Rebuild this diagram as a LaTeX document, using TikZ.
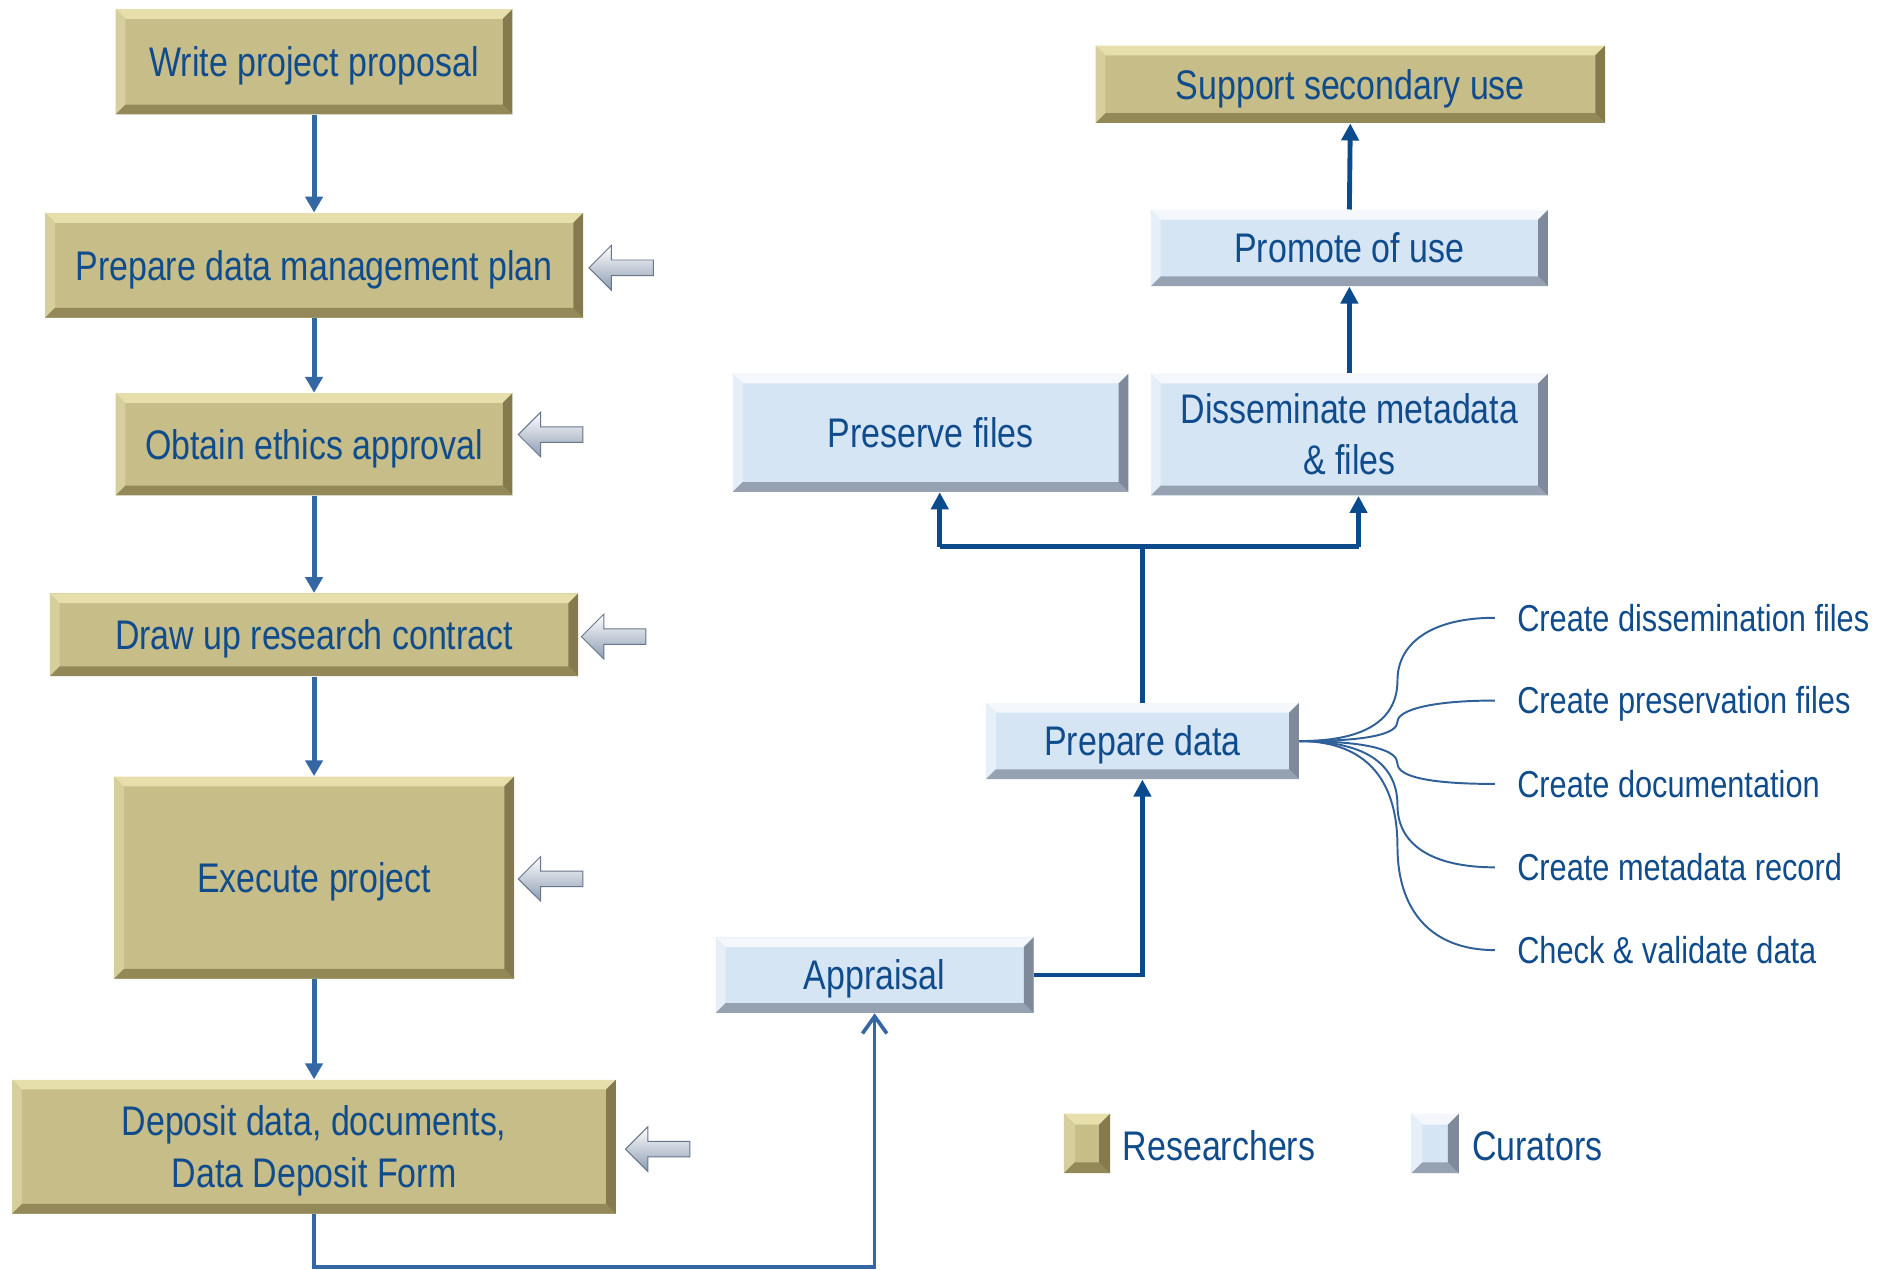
\documentclass[tikz,border=0pt]{standalone}
\usepackage{fontspec}
\setmainfont{Liberation Sans}[FakeStretch=0.82]
\usetikzlibrary{shapes.arrows,arrows.meta}
\definecolor{tanF}{RGB}{198,189,136}
\definecolor{tanT}{RGB}{230,223,172}
\definecolor{tanL}{RGB}{214,206,156}
\definecolor{tanB}{RGB}{146,136,88}
\definecolor{tanR}{RGB}{132,122,78}
\definecolor{bluF}{RGB}{214,229,244}
\definecolor{bluT}{RGB}{244,248,253}
\definecolor{bluL}{RGB}{230,239,248}
\definecolor{bluB}{RGB}{150,162,178}
\definecolor{bluR}{RGB}{126,138,154}
\definecolor{txt}{RGB}{16,76,140}
\definecolor{lcol}{RGB}{52,103,164}
\definecolor{rcol}{RGB}{12,74,142}
\definecolor{ccol}{RGB}{48,96,152}
\definecolor{arrM}{RGB}{234,240,247}
\definecolor{arrB}{RGB}{140,156,178}
\definecolor{arrD}{RGB}{104,118,140}
\newcommand\boxfont{\fontsize{17}{21}\selectfont}
\newcommand\labfont{\fontsize{15.4}{18}\selectfont}
\newcommand\bevelfill[5]{%
  \path (path picture bounding box.north west) coordinate (bvA)
        (path picture bounding box.north east) coordinate (bvB)
        (path picture bounding box.south east) coordinate (bvC)
        (path picture bounding box.south west) coordinate (bvD);
  \fill[#1] (bvA) -- (bvB) -- ([shift={(-#5,-#5)}]bvB) -- ([shift={(#5,-#5)}]bvA) -- cycle;
  \fill[#2] (bvA) -- ([shift={(#5,-#5)}]bvA) -- ([shift={(#5,#5)}]bvD) -- (bvD) -- cycle;
  \fill[#3] (bvD) -- ([shift={(#5,#5)}]bvD) -- ([shift={(-#5,#5)}]bvC) -- (bvC) -- cycle;
  \fill[#4] (bvB) -- (bvC) -- ([shift={(-#5,#5)}]bvC) -- ([shift={(-#5,-#5)}]bvB) -- cycle;
}
\begin{document}
\begin{tikzpicture}[x=0.5pt,y=-0.5pt,
  tanbox/.style={rectangle, fill=tanF, text=txt, font=\boxfont, align=center,
    inner sep=0pt, text height=12.2pt, text depth=0pt,
    path picture={\bevelfill{tanT}{tanL}{tanB}{tanR}{#1}}},
  tanbox/.default=4pt,
  bluebox/.style={rectangle, fill=bluF, text=txt, font=\boxfont, align=center,
    inner sep=0pt, text height=12.2pt, text depth=0pt,
    path picture={\bevelfill{bluT}{bluL}{bluB}{bluR}{#1}}},
  bluebox/.default=4pt,
  twolines/.style={text height=33.2pt, text depth=0pt},
  larr/.style={draw=lcol, line width=2pt, -{Triangle[length=6.5pt,width=7pt]}},
  rarr/.style={draw=rcol, line width=2pt, -{Triangle[length=7pt,width=7pt]}},
  rline/.style={draw=rcol, line width=2pt},
  retarr/.style={draw=lcol, line width=1.5pt, -{Straight Barb[length=7pt,width=10pt,line width=1.5pt]}},
  curv/.style={draw=ccol, line width=0.8pt},
  lab/.style={anchor=west, inner sep=0pt, text=txt, font=\labfont, text height=11pt, text depth=0pt},
  legtext/.style={anchor=west, inner sep=0pt, text=txt, font=\boxfont, text height=12.2pt, text depth=0pt},
  hint/.style={single arrow, shape border rotate=180, inner xsep=0pt, inner ysep=3pt,
    single arrow head extend=6pt, minimum height=26.5pt,
    top color=white, middle color=arrM, bottom color=arrB, draw=arrD, line width=0.4pt}
]
\fill[white] (0,0) rectangle (1560,1042.5);
\useasboundingbox (0,0) rectangle (1560,1042.5);

% left column (researchers)
\node[tanbox, minimum width=163pt, minimum height=43.25pt] (W) at (258,50.75) {Write project proposal};
\node[tanbox, minimum width=221pt, minimum height=43pt] (P) at (258,218) {Prepare data management plan};
\node[tanbox, minimum width=163pt, minimum height=42pt] (O) at (258,365) {Obtain ethics approval};
\node[tanbox, minimum width=217pt, minimum height=34pt] (D) at (258,521.5) {Draw up research contract};
\node[tanbox, minimum width=164.25pt, minimum height=83pt] (E) at (258,721) {Execute project};
\node[tanbox, twolines, minimum width=248pt, minimum height=55pt] (Dep) at (258,942) {Deposit data, documents,\\Data Deposit Form};

\draw[larr] (W.south) -- (P.north);
\draw[larr] (P.south) -- (O.north);
\draw[larr] (O.south) -- (D.north);
\draw[larr] (D.south) -- (E.north);
\draw[larr] (E.south) -- (Dep.north);

% hint arrows
\node[hint] (h2) at (513.5,220) {};
\node[hint] (h3) at (455.5,357) {};
\node[hint] (h4) at (507.3,523) {};
\node[hint] (h5) at (455.5,722) {};
\node[hint] (h6) at (543.5,944) {};

% right side
\node[tanbox, minimum width=209.25pt, minimum height=31.75pt] (S) at (1109.25,69.25) {Support secondary use};
\node[bluebox, minimum width=163pt, minimum height=31.25pt] (Pr) at (1108.5,203.75) {Promote of use};
\node[bluebox, minimum width=162.5pt, minimum height=48.5pt] (Pf) at (764.5,355.5) {Preserve files};
\node[bluebox, twolines, minimum width=163pt, minimum height=50pt] (Dm) at (1108.5,357) {Disseminate metadata\\\& files};
\node[bluebox, minimum width=128.5pt, minimum height=31.25pt] (PD) at (938.5,608.75) {Prepare data};
\node[bluebox, minimum width=130.5pt, minimum height=31pt] (Ap) at (718.5,801) {Appraisal};

\draw[rarr] (Pr.north) -- (S.south);
\draw[rarr] (Dm.north) -- (Pr.south);
\coordinate (split) at (938.5,449);
\coordinate (lft) at (772,449);
\coordinate (rgt) at (1116,449);
\draw[rline] (PD.north) -- (split);
\draw[rline] (lft) -- (rgt);
\draw[rarr] (lft) -- (lft |- Pf.south);
\draw[rarr] (rgt) -- (rgt |- Dm.south);
\draw[rarr] (Ap.east) -| (PD.south);

\coordinate (bot) at (258,1041);
\draw[retarr] (Dep.south) -- (bot) -| (Ap.south);

% task labels
\node[lab] (c1) at (1246,507.5) {Create dissemination files};
\node[lab] (c2) at (1246,575.5) {Create preservation files};
\node[lab] (c3) at (1246,644) {Create documentation};
\node[lab] (c4) at (1246,712.5) {Create metadata record};
\node[lab] (c5) at (1246,780.5) {Check \& validate data};

\draw[curv] (PD.east) .. controls (1125,609) and (1148,589) .. (1148,559) .. controls (1148,529) and (1175,507.5) .. ([xshift=-9pt]c1.west);
\draw[curv] (PD.east) .. controls (1125,609) and (1148,602.6) .. (1148,593) .. controls (1148,583.4) and (1175,575.5) .. ([xshift=-9pt]c2.west);
\draw[curv] (PD.east) .. controls (1125,609) and (1148,616.3) .. (1148,627.25) .. controls (1148,638.2) and (1175,644) .. ([xshift=-9pt]c3.west);
\draw[curv] (PD.east) .. controls (1125,609) and (1148,630) .. (1148,661.5) .. controls (1148,693) and (1175,712.5) .. ([xshift=-9pt]c4.west);
\draw[curv] (PD.east) .. controls (1125,609) and (1148,643.6) .. (1148,695.5) .. controls (1148,747.4) and (1175,780.5) .. ([xshift=-9pt]c5.west);

% legend
\node[tanbox=4.5pt, minimum width=19pt, minimum height=24.5pt] (legR) at (893,939.3) {};
\node[legtext] (legRt) at (922,941.5) {Researchers};
\node[bluebox=4.5pt, minimum width=19.5pt, minimum height=24.5pt] (legC) at (1179,939.3) {};
\node[legtext] (legCt) at (1209,941.5) {Curators};
\end{tikzpicture}
\end{document}
